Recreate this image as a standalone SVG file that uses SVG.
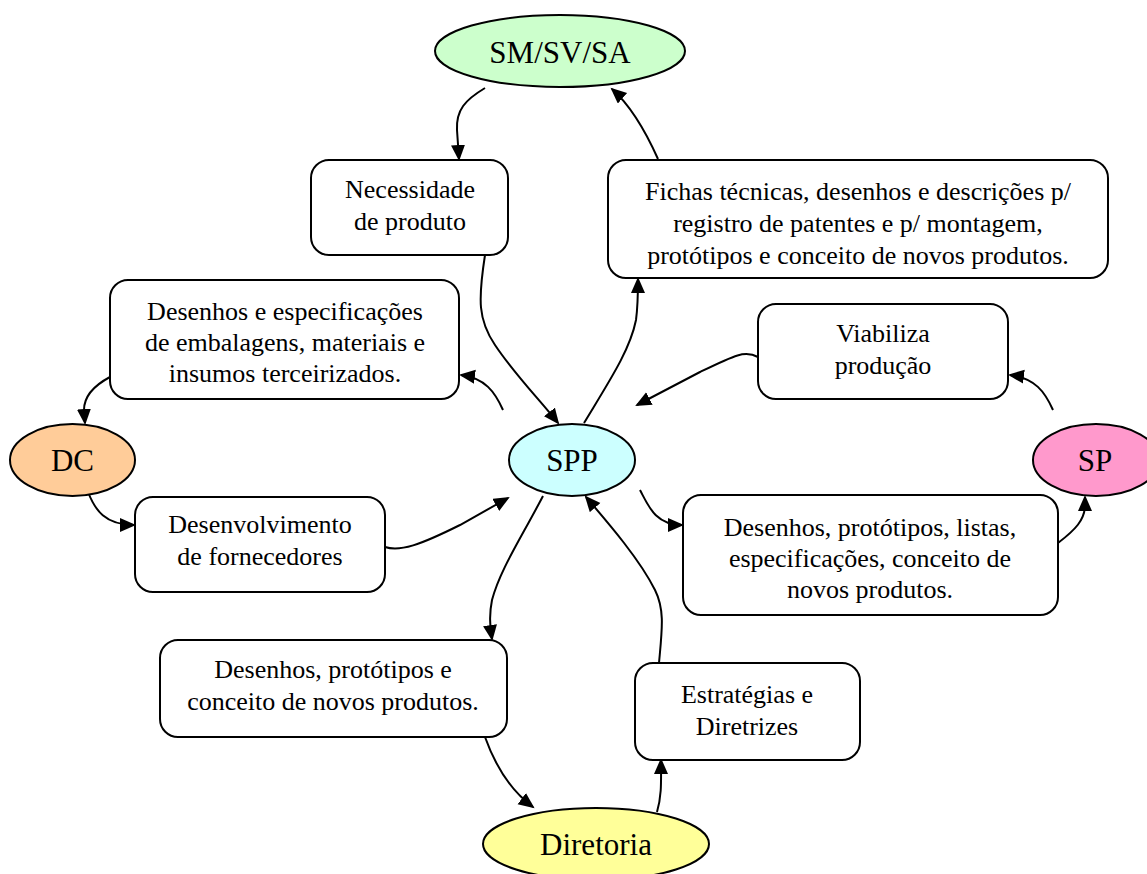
<svg xmlns="http://www.w3.org/2000/svg" width="1147" height="874" viewBox="0 0 1147 874">
  <style>
    .box { fill: #ffffff; stroke: #000000; stroke-width: 2; }
    .oval { stroke: #000000; stroke-width: 2; }
    .lbl { font-family: "Liberation Serif", "Times New Roman", serif; font-size: 26px; fill: #000000; text-anchor: middle; }
    .big { font-family: "Liberation Serif", "Times New Roman", serif; font-size: 31px; fill: #000000; text-anchor: middle; }
    .link { fill: none; stroke: #000000; stroke-width: 2; marker-end: url(#arrow); }
  </style>
  <defs>
    <marker id="arrow" markerUnits="userSpaceOnUse" markerWidth="17" markerHeight="15" refX="14" refY="7" orient="auto">
      <path d="M0,0 L16,7 L0,14 z" fill="#000000"/>
    </marker>
  </defs>
  <rect width="1147" height="874" fill="#ffffff"/>

  <g id="connectors">
    <path class="link" d="M485,88 C465,100 456,110 457,130 L459,159"/>
    <path class="link" d="M658,159 C645,130 630,105 612,89"/>
    <path class="link" d="M485,255 C478,300 478,320 495,345 C515,375 540,400 558,423"/>
    <path class="link" d="M584,423 C610,380 630,350 636,320 C638,305 638,295 638,279"/>
    <path class="link" d="M503,410 C495,392 485,378 461,375"/>
    <path class="link" d="M110,377 C95,385 84,395 84,410 L85,423"/>
    <path class="link" d="M88,492 C95,510 105,525 134,525"/>
    <path class="link" d="M385,547 C400,552 420,545 460,525 L508,498"/>
    <path class="link" d="M758,357 C745,350 735,355 700,372 L637,405"/>
    <path class="link" d="M1053,410 C1045,392 1035,378 1010,375"/>
    <path class="link" d="M1058,543 C1075,530 1085,520 1085,505 L1085,497"/>
    <path class="link" d="M640,490 C648,505 655,525 682,525"/>
    <path class="link" d="M543,496 C520,540 500,570 492,600 C489,615 490,625 492,639"/>
    <path class="link" d="M659,663 C662,630 665,610 655,590 C640,560 610,525 586,497"/>
    <path class="link" d="M485,737 C495,765 510,790 533,807"/>
    <path class="link" d="M657,812 C662,795 661,780 661,760"/>
  </g>

  <g id="smsvsa">
    <ellipse class="oval" cx="560" cy="51" rx="125" ry="36" fill="#ccffcc"/>
    <text class="big" x="560" y="63">SM/SV/SA</text>
  </g>

  <g id="necessidade">
    <rect class="box" x="311" y="160" width="197" height="95" rx="18"/>
    <text class="lbl" x="410" y="198">Necessidade</text>
    <text class="lbl" x="410" y="230">de produto</text>
  </g>

  <g id="fichas">
    <rect class="box" x="608" y="160" width="500" height="118" rx="18"/>
    <text class="lbl" x="858" y="200">Fichas técnicas, desenhos e descrições p/</text>
    <text class="lbl" x="858" y="232">registro de patentes e p/ montagem,</text>
    <text class="lbl" x="858" y="264">protótipos e conceito de novos produtos.</text>
  </g>

  <g id="especificacoes">
    <rect class="box" x="110" y="280" width="349" height="119" rx="18"/>
    <text class="lbl" x="285" y="320">Desenhos e especificações</text>
    <text class="lbl" x="285" y="351">de embalagens, materiais e</text>
    <text class="lbl" x="285" y="382">insumos terceirizados.</text>
  </g>

  <g id="dc">
    <ellipse class="oval" cx="72.5" cy="460" rx="62.5" ry="36" fill="#ffcc99"/>
    <text class="big" x="72.5" y="471">DC</text>
  </g>

  <g id="fornecedores">
    <rect class="box" x="135" y="497" width="250" height="95" rx="18"/>
    <text class="lbl" x="260" y="533">Desenvolvimento</text>
    <text class="lbl" x="260" y="565">de fornecedores</text>
  </g>

  <g id="spp">
    <ellipse class="oval" cx="572" cy="460" rx="63" ry="36" fill="#ccffff"/>
    <text class="big" x="572" y="471">SPP</text>
  </g>

  <g id="viabiliza">
    <rect class="box" x="758" y="304" width="250" height="95" rx="18"/>
    <text class="lbl" x="883" y="342">Viabiliza</text>
    <text class="lbl" x="883" y="374">produção</text>
  </g>

  <g id="sp">
    <ellipse class="oval" cx="1096" cy="460" rx="63" ry="36" fill="#ff99cc"/>
    <text class="big" x="1095" y="471">SP</text>
  </g>

  <g id="listas">
    <rect class="box" x="683" y="495" width="375" height="120" rx="18"/>
    <text class="lbl" x="870" y="536">Desenhos, protótipos, listas,</text>
    <text class="lbl" x="870" y="567">especificações, conceito de</text>
    <text class="lbl" x="870" y="598">novos produtos.</text>
  </g>

  <g id="prototipos">
    <rect class="box" x="160" y="640" width="347" height="97" rx="18"/>
    <text class="lbl" x="333" y="678">Desenhos, protótipos e</text>
    <text class="lbl" x="333" y="710">conceito de novos produtos.</text>
  </g>

  <g id="estrategias">
    <rect class="box" x="635" y="663" width="225" height="97" rx="18"/>
    <text class="lbl" x="747" y="703">Estratégias e</text>
    <text class="lbl" x="747" y="735">Diretrizes</text>
  </g>

  <g id="diretoria">
    <ellipse class="oval" cx="596" cy="844" rx="113" ry="36" fill="#ffff99"/>
    <text class="big" x="596" y="855">Diretoria</text>
  </g>
</svg>
